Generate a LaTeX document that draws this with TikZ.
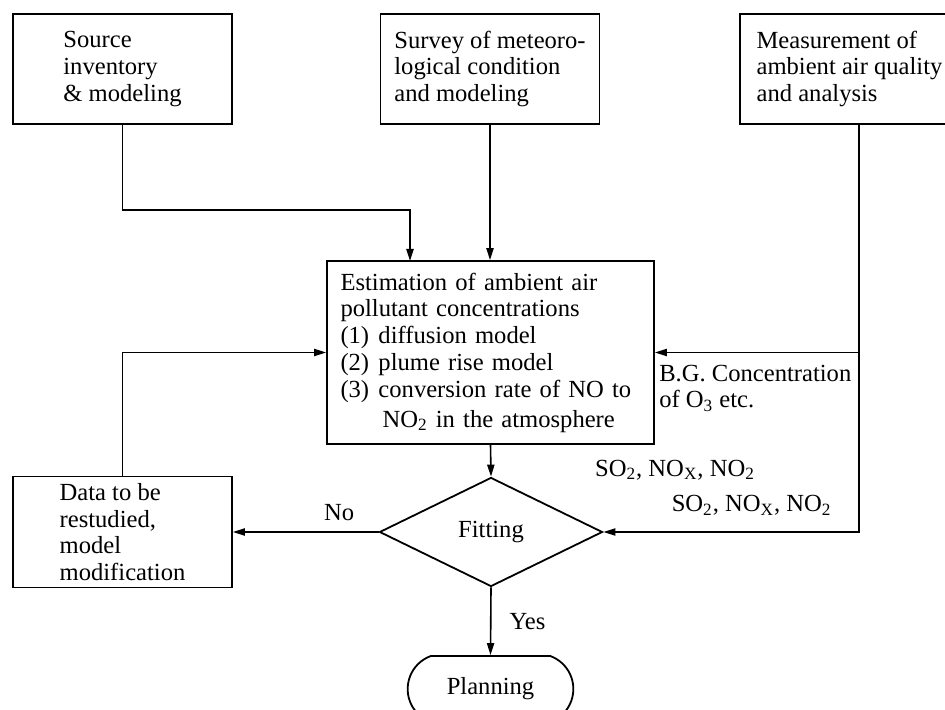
\documentclass[tikz,border=0pt]{standalone}
\usepackage{fontspec}
\setmainfont{Liberation Serif}
\usetikzlibrary{arrows.meta,positioning,shapes.geometric,shapes.misc,calc}

\tikzset{
  txt/.style={font=\fontsize{12.3}{13.4}\selectfont},
  blk/.style={txt,draw,line width=0.9pt,align=left,
    minimum width=109.5pt,minimum height=55pt},
  lbl/.style={txt,align=left,inner sep=1pt},
  arr/.style={-{Triangle[length=6pt,width=3.6pt]},line width=0.8pt}
}

\begin{document}
\begin{tikzpicture}[x=0.5pt,y=-0.5pt]
  \useasboundingbox (0,0) rectangle (945,710);

  % input blocks
  \node[blk] (src) at (122.5,69) {Source\\inventory\\\& modeling};
  \node[blk] (svy) at (490,69) {Survey of meteoro-\\logical condition\\and modeling};
  \node[blk] (msr) at (849.5,69) {Measurement of\\ambient air quality\\and analysis};

  % estimation
  \node[blk,text width=150pt,inner xsep=6.75pt,minimum height=91.5pt] (est) at (490.5,352.5) {%
    Estimation of ambient air\\
    pollutant concentrations\\
    \makebox[19pt][l]{(1)}diffusion model\\
    \makebox[19pt][l]{(2)}plume rise model\\
    \makebox[19pt][l]{(3)}conversion rate of NO to\\[1.5pt]
    \hspace*{21pt}NO\textsubscript{2} in the atmosphere};

  % decision and outputs
  \node[txt,draw,diamond,line width=0.9pt,minimum width=111.5pt,minimum height=54.5pt,
        inner sep=1pt] (fit) at (491,532) {Fitting};
  \node[blk] (dat) at (122.5,532) {Data to be\\restudied,\\model\\modification};
  \node[txt,draw,rounded rectangle,rounded rectangle arc length=140,line width=0.9pt,
        minimum width=89.5pt,minimum height=33pt] (pln) at (490.5,689) {Planning};

  \coordinate (srcin) at (410,261);
  \coordinate (msrout) at ($(msr.south)+(9.5,0)$);

  % connectors
  \draw[arr] (src.south) -- ++(0,85) -| (srcin);
  \draw[arr] (svy.south) -- (svy.south |- est.north);
  \draw[arr] (msrout) |- node[lbl,above=7pt,pos=0.71]{SO\textsubscript{2}, NO\textsubscript{X}, NO\textsubscript{2}} (fit.east);
  \draw[arr] (msrout |- est.east) -- (est.east);
  \draw[arr] (est.south) -- (fit.north);
  \draw[arr] (fit.west) -- node[lbl,above=4pt,pos=0.27]{No} (dat.east);
  \draw[arr] (dat.north) |- (est.west);
  \draw[arr] (fit.south) -- node[lbl,right=8pt]{Yes} (pln.north);

  % labels
  \node[lbl,anchor=north west] (bg) at ($(est.east)+(2,10)$) {B.G. Concentration\\of O\textsubscript{3} etc.};
  \node[lbl] (so1) at (675,470) {SO\textsubscript{2}, NO\textsubscript{X}, NO\textsubscript{2}};
\end{tikzpicture}
\end{document}
